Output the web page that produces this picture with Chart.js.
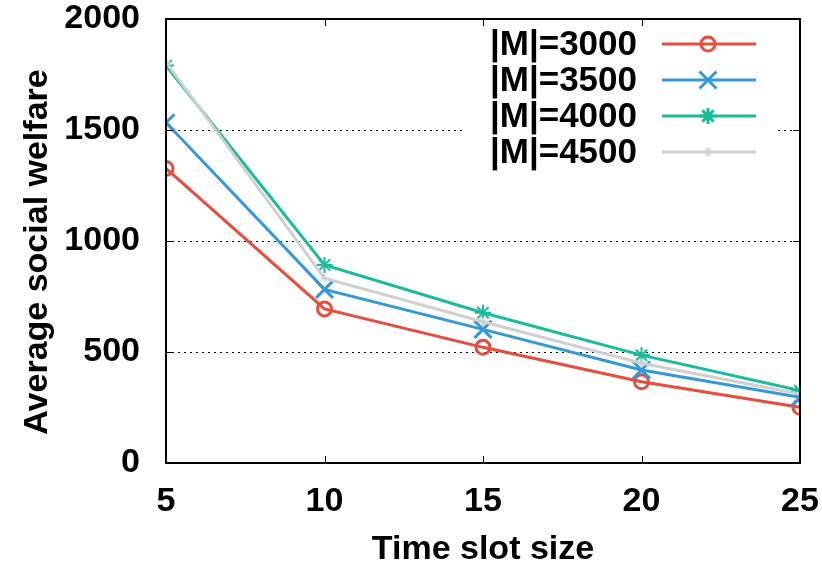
<!DOCTYPE html>
<html lang="en">
<head>
    <meta charset="UTF-8">
    <title>Average social welfare</title>
    <style>
        html, body { margin: 0; padding: 0; background: #fff; }
        #wrap { width: 822px; height: 577px; }
    </style>
</head>
<body>
    <div id="wrap"><canvas id="welfareChart" width="822" height="577"></canvas></div>
    <script src="https://cdn.jsdelivr.net/npm/chart.js"></script>
    <script>
        const slotSizes = [5, 10, 15, 20, 25];
        const yTicks = [0, 500, 1000, 1500, 2000];
        const seriesNames = ['|M|=3000', '|M|=3500', '|M|=4000', '|M|=4500'];
        const m3000 = [1327, 694, 521, 366, 251];
        const m3500 = [1533, 782, 602, 419, 296];
        const m4000 = [1790, 892, 677, 486, 326];
        const m4500 = [1805, 832, 636, 449, 311];
        const yTitle = 'Average social welfare';
        const xTitle = 'Time slot size';

        const FONT = '"Liberation Sans", Arial, sans-serif';
        const colors = ['#e74c3c', '#3498db', '#1abc9c', '#d0d0d0'];
        const markers = ['circle', 'crossRot', 'star', 'cross'];
        const markerSize = [7, 12, 8, 4];
        const markerWidth = [3, 3, 2, 2];

        const allValues = [m3000, m3500, m4000, m4500];

        const datasets = allValues.map((vals, i) => ({
            label: seriesNames[i],
            data: slotSizes.map((x, j) => ({ x: x, y: vals[j] })),
            borderColor: colors[i],
            backgroundColor: 'rgba(0,0,0,0)',
            borderWidth: 3,
            pointStyle: markers[i],
            pointRadius: markerSize[i],
            pointBorderWidth: markerWidth[i],
            pointBorderColor: colors[i],
            pointBackgroundColor: 'rgba(0,0,0,0)',
            tension: 0
        })).reverse();

        // frame, inward ticks, y title and the gnuplot-style key
        const framePlugin = {
            id: 'frame',
            beforeDatasetsDraw(chart) {
                const ctx = chart.ctx;
                // key background hides the grid line behind it
                ctx.save();
                ctx.fillStyle = '#fff';
                ctx.fillRect(465, 26, 312, 140);
                ctx.restore();
            },
            afterDraw(chart) {
                const ctx = chart.ctx;
                const a = chart.chartArea;
                const xs = chart.scales.x;
                const ys = chart.scales.y;
                ctx.save();
                ctx.strokeStyle = '#000';
                ctx.lineWidth = 2;
                ctx.strokeRect(a.left, a.top, a.right - a.left, a.bottom - a.top);
                ctx.lineWidth = 1;
                ctx.beginPath();
                slotSizes.forEach(v => {
                    const px = Math.round(xs.getPixelForValue(v)) + 0.5;
                    ctx.moveTo(px, a.bottom); ctx.lineTo(px, a.bottom - 7);
                    ctx.moveTo(px, a.top); ctx.lineTo(px, a.top + 7);
                });
                yTicks.forEach(v => {
                    const py = Math.round(ys.getPixelForValue(v)) + 0.5;
                    ctx.moveTo(a.left, py); ctx.lineTo(a.left + 7, py);
                    ctx.moveTo(a.right, py); ctx.lineTo(a.right - 7, py);
                });
                ctx.stroke();

                // y axis title
                ctx.save();
                ctx.translate(47, 252);
                ctx.rotate(-Math.PI / 2);
                ctx.font = 'bold 34px ' + FONT;
                ctx.fillStyle = '#000';
                ctx.textAlign = 'center';
                ctx.textBaseline = 'alphabetic';
                ctx.fillText(yTitle, 0, 0);
                ctx.restore();

                // key
                ctx.font = 'bold 35px ' + FONT;
                ctx.textAlign = 'right';
                ctx.textBaseline = 'middle';
                seriesNames.forEach((name, i) => {
                    const y = 44 + i * 36;
                    ctx.fillStyle = '#000';
                    ctx.fillText(name, 637, y + 1);
                    ctx.strokeStyle = colors[i];
                    ctx.fillStyle = 'rgba(0,0,0,0)';
                    ctx.lineWidth = 3;
                    ctx.beginPath();
                    ctx.moveTo(662, y); ctx.lineTo(756, y);
                    ctx.stroke();
                    Chart.helpers.drawPoint(ctx, {
                        pointStyle: markers[i],
                        radius: markerSize[i],
                        borderWidth: markerWidth[i]
                    }, 708, y);
                });
                ctx.restore();
            }
        };

        new Chart(document.getElementById('welfareChart'), {
            type: 'line',
            data: { datasets: datasets },
            plugins: [framePlugin],
            options: {
                responsive: false,
                animation: false,
                layout: { padding: { top: 19, right: 22, left: 0, bottom: 0 } },
                plugins: { legend: { display: false }, tooltip: { enabled: false } },
                scales: {
                    x: {
                        type: 'linear',
                        min: 5,
                        max: 25,
                        afterBuildTicks: s => { s.ticks = slotSizes.map(v => ({ value: v })); },
                        afterFit: s => { s.height = 114; s.paddingLeft = 0; s.paddingRight = 0; },
                        grid: { display: false },
                        border: { display: false },
                        ticks: {
                            color: '#000',
                            padding: 10,
                            font: { family: FONT, size: 34, weight: 'bold' }
                        },
                        title: {
                            display: true,
                            text: xTitle,
                            color: '#000',
                            padding: { top: 0, bottom: 7 },
                            font: { family: FONT, size: 34, weight: 'bold' }
                        }
                    },
                    y: {
                        min: 0,
                        max: 2000,
                        afterBuildTicks: s => { s.ticks = yTicks.map(v => ({ value: v })); },
                        afterFit: s => { s.width = 166; s.paddingTop = 0; s.paddingBottom = 0; },
                        grid: {
                            drawTicks: false,
                            color: c => (c.tick && (c.tick.value === 0 || c.tick.value === 2000)) ? 'rgba(0,0,0,0)' : '#000',
                            lineWidth: 1
                        },
                        border: { display: false, dash: [2, 4] },
                        ticks: {
                            color: '#000',
                            padding: 26,
                            font: { family: FONT, size: 34, weight: 'bold' },
                            callback: v => String(v)
                        }
                    }
                }
            }
        });
    </script>
</body>
</html>
